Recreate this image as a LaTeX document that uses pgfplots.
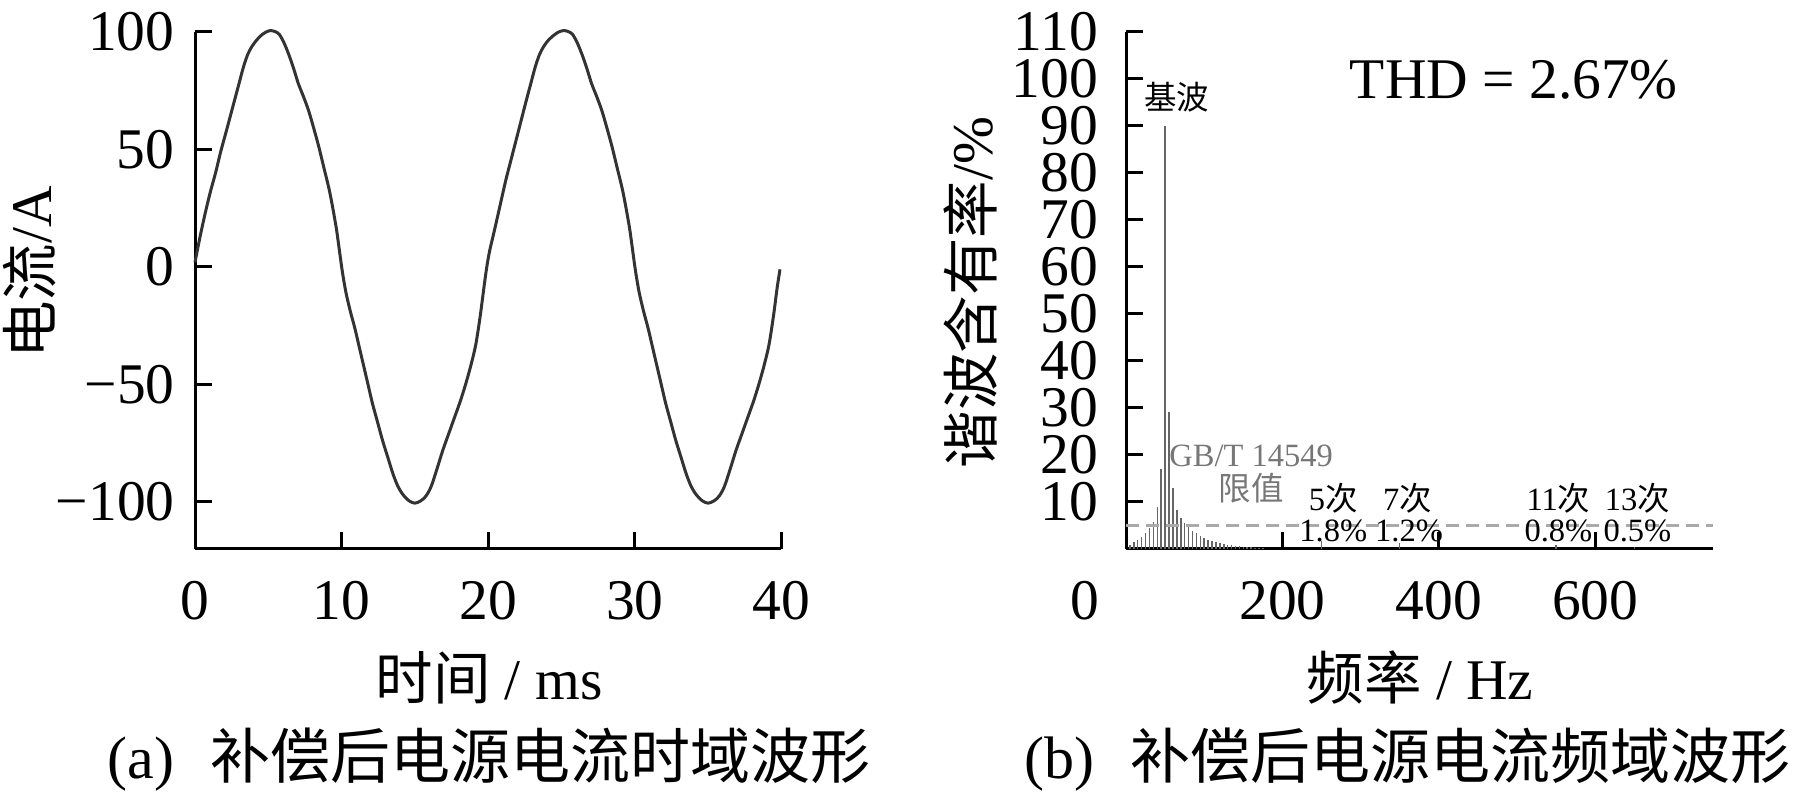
\documentclass[border=0pt]{standalone}
\usepackage{fontspec}
\setmainfont{Liberation Serif}
\IfFontExistsTF{FandolSong-Regular.otf}{\newfontfamily\cjk{FandolSong-Regular.otf}}{\newfontfamily\cjk{Noto Sans CJK SC}}
\usepackage{pgfplots}
\pgfplotsset{compat=1.18}
\definecolor{annogray}{HTML}{777777}
\definecolor{wave}{HTML}{333333}
\definecolor{bar}{HTML}{666666}
\definecolor{limit}{HTML}{AAAAAA}
\newcommand{\bigf}{\fontsize{23}{27}\selectfont}
\newcommand{\capf}{\fontsize{24}{28}\selectfont}
\newcommand{\smf}{\fontsize{13}{15}\selectfont}
\begin{document}
\begin{tikzpicture}
\useasboundingbox (0,0) rectangle (720pt,318pt);
\pgfplotsset{
  common/.style={
    scale only axis, width=234.6pt, height=206.8pt,
    axis x line*=bottom, axis y line*=left,
    axis line style={line width=1.2pt, black},
    tick align=inside, major tick length=6.8pt,
    tick style={line width=1.2pt, black},
    ticklabel style={font=\bigf},
    xticklabel style={anchor=base, yshift=-28.4pt, inner sep=0pt},
    yticklabel style={anchor=east, inner sep=0pt},
    clip=false,
  }
}
\begin{axis}[common, at={(78pt,98.4pt)}, anchor=south west,
  xmin=0, xmax=40, ymin=-120, ymax=100,
  xtick={0,10,20,30,40}, xticklabels={0,10,20,30,40},
  ytick={-100,-50,0,50,100}, yticklabels={−100,−50,0,50,100},
  yticklabel style={xshift=-8pt}]
\addplot[line width=1.2pt, color=wave, smooth, tension=0.5] table {
0 2
0.35 13
0.7 23
1.05 32
1.4 40
1.75 49
2.1 57
2.4 64
2.7 71
3.0 78
3.3 85
3.6 90.5
3.9 94
4.2 96.5
4.5 98.5
4.85 100
5.15 100.6
5.45 100.2
5.75 99
6.1 95
6.45 89.5
6.75 84
7.05 78
7.4 72.5
7.75 66.5
8.1 59
8.45 51
8.8 42
9.15 33
9.4 25
9.65 16
9.85 7
10.05 -2
10.3 -11
10.6 -19
10.9 -26
11.2 -34
11.5 -42
11.8 -50
12.1 -58
12.45 -66
12.8 -74
13.15 -81
13.5 -88
13.85 -93.5
14.2 -97
14.6 -99.5
15.0 -100.5
15.4 -99.5
15.75 -97.5
16.1 -93.5
16.5 -86
16.9 -78
17.3 -71
17.7 -64
18.1 -57
18.5 -49
18.85 -41
19.15 -33
19.45 -21
19.7 -9
19.9 0
20.1 7
20.4 15
20.8 26
21.2 37
21.55 45.5
21.9 54
22.25 62.5
22.6 71
22.9 78
23.2 85
23.5 90.5
23.8 94
24.1 96.5
24.45 98.5
24.8 100
25.15 100.6
25.45 100.2
25.75 99
26.1 95
26.45 89.5
26.75 84
27.05 78
27.4 72.5
27.75 66.5
28.1 59
28.45 51
28.8 42
29.15 33
29.4 25
29.65 16
29.85 7
30.05 -2
30.3 -11
30.6 -19
30.9 -26
31.2 -34
31.5 -42
31.8 -50
32.1 -58
32.45 -66
32.8 -74
33.15 -81
33.5 -88
33.85 -93.5
34.2 -97
34.6 -99.5
35.0 -100.5
35.4 -99.5
35.75 -97.5
36.1 -93.5
36.5 -86
36.9 -78
37.3 -71
37.7 -64
38.1 -57
38.5 -49
38.85 -41
39.15 -33
39.45 -21
39.7 -9
39.9 -1
};
\end{axis}

\begin{axis}[common, at={(450.4pt,98.4pt)}, anchor=south west,
  xmin=0, xmax=750, ymin=0, ymax=110,
  xtick={200,400,600}, xticklabels={200,400,600},
  ytick={10,20,30,40,50,60,70,80,90,100,110},
  yticklabels={10,20,30,40,50,60,70,80,90,100,110},
  yticklabel style={xshift=-11pt}]
\addplot[ycomb, line width=0.6pt, color=bar] table {
5 0.8
10 1.4
15 2.0
20 2.6
25 3.4
30 4.5
35 5.8
40 9.0
45 17.0
50 90.0
55 29.2
60 13.0
65 8.3
70 6.6
75 5.5
80 4.6
85 3.9
90 3.3
95 2.8
100 2.4
105 2.0
110 1.7
115 1.5
120 1.3
125 1.1
130 0.9
135 0.8
140 0.7
145 0.6
150 0.5
155 0.4
160 0.35
165 0.3
170 0.25
175 0.2
250 1.8
350 1.2
550 0.8
650 0.5
};
\addplot[line width=1.2pt, color=limit, dash pattern=on 5pt off 3pt] coordinates {(0,5) (750,5)};
\node[font=\smf\cjk] at (axis cs:65,96.2) {基波};
\node[font=\smf, text=annogray] at (axis cs:160,19.8) {GB/T 14549};
\node[font=\smf\cjk, text=annogray] at (axis cs:160,13) {限值};
\node[font=\smf] at (axis cs:265,10.9) {5{\cjk 次}};
\node[font=\smf] at (axis cs:360,10.9) {7{\cjk 次}};
\node[font=\smf] at (axis cs:553,10.9) {11{\cjk 次}};
\node[font=\smf] at (axis cs:654,10.9) {13{\cjk 次}};
\node[font=\smf] at (axis cs:265,3.8) {1.8\%};
\node[font=\smf] at (axis cs:362,3.8) {1.2\%};
\node[font=\smf] at (axis cs:553,3.8) {0.8\%};
\node[font=\smf] at (axis cs:654,3.8) {0.5\%};
\node[font=\bigf] at (axis cs:496,99.8) {THD = 2.67\%};
\end{axis}

\node[anchor=base, font=\bigf, inner sep=0pt] at (434pt,70pt) {0};
\node[anchor=base, font=\bigf, inner sep=0pt] at (195.6pt,38pt) {{\cjk 时间} / ms};
\node[anchor=base, font=\bigf, inner sep=0pt] at (568pt,38pt) {{\cjk 频率} / Hz};
\node[anchor=base, font=\capf, inner sep=0pt] at (195.6pt,6.4pt) {(a)\hspace{0.6em}{\cjk 补偿后电源电流时域波形}};
\node[anchor=base, font=\capf, inner sep=0pt] at (563pt,6.4pt) {(b)\hspace{0.6em}{\cjk 补偿后电源电流频域波形}};
\node[rotate=90, font=\bigf, inner sep=0pt] at (12pt,209pt) {{\cjk 电流}/A};
\node[rotate=90, font=\bigf, inner sep=0pt] at (388pt,201pt) {{\cjk 谐波含有率}/\%};
\end{tikzpicture}
\end{document}
